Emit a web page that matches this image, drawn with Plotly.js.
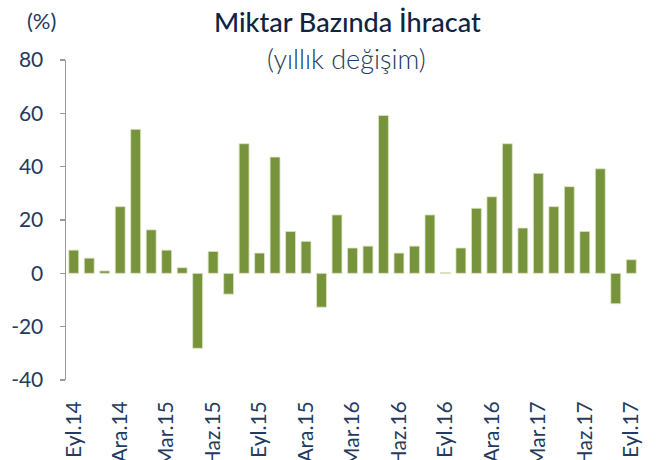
<!DOCTYPE html>
<html>
<head>
<meta charset="utf-8">
<script src="https://cdn.plot.ly/plotly-3.0.1.min.js"></script>
<style>html,body{margin:0;padding:0;background:#fff;}#chart{width:657px;height:460px;}</style>
</head>
<body>
<div id="chart"></div>
<script>
// Monthly periods, Sep 2014 .. Sep 2017
const months = ["Eyl.14","Eki.14","Kas.14","Ara.14","Oca.15","Şub.15","Mar.15","Nis.15","May.15","Haz.15","Tem.15","Ağu.15",
  "Eyl.15","Eki.15","Kas.15","Ara.15","Oca.16","Şub.16","Mar.16","Nis.16","May.16","Haz.16","Tem.16","Ağu.16",
  "Eyl.16","Eki.16","Kas.16","Ara.16","Oca.17","Şub.17","Mar.17","Nis.17","May.17","Haz.17","Tem.17","Ağu.17","Eyl.17"];
// Export volume, annual % change
const values = [8.7, 5.7, 0.9, 25, 54, 16.3, 8.7, 2.1, -28.1, 8.2, -7.8, 48.6,
  7.6, 43.6, 15.7, 12, -12.7, 21.9, 9.5, 10.2, 59.2, 7.6, 10.2, 21.9,
  0.3, 9.5, 24.4, 28.7, 48.6, 17, 37.5, 25, 32.5, 15.7, 39.2, -11.4, 5.1];
// Labelled months (every third)
const labelMonths = ["Eyl.14","Ara.14","Mar.15","Haz.15","Eyl.15","Ara.15","Mar.16","Haz.16","Eyl.16","Ara.16","Mar.17","Haz.17","Eyl.17"];
const yTicks = [-40, -20, 0, 20, 40, 60, 80];

const idx = months.map((m, i) => i);
const labelIdx = labelMonths.map(m => months.indexOf(m));
const boundaryIdx = labelIdx.filter(i => i > 0).map(i => i - 0.5);

const xr = [-0.5, months.length - 0.5];
const yr = [yTicks[0], yTicks[yTicks.length - 1]];
const zeroPos = (0 - yr[0]) / (yr[1] - yr[0]);

const textCol = '#243a5e';
const axCol = '#9a9a9a';
const fnt = "Lato, 'Open Sans', sans-serif";

const trace = {
  type: 'bar',
  x: idx,
  y: values,
  hovertext: months,
  hoverinfo: 'text+y',
  textposition: 'none',
  marker: {color: '#77933c', line: {color: '#dde6c6', width: 0.8}},
  width: 0.64
};

const layout = {
  width: 657, height: 460,
  margin: {l: 66, r: 18, t: 60, b: 80},
  paper_bgcolor: '#fff', plot_bgcolor: '#fff',
  showlegend: false,
  font: {family: fnt, color: textCol},
  xaxis: {
    range: xr, fixedrange: true,
    tickmode: 'array', tickvals: labelIdx, ticktext: labelMonths,
    tickangle: -90, ticks: '', showline: false, showgrid: false, zeroline: false,
    tickfont: {size: 21, color: textCol, family: fnt},
    ticklabelstandoff: 16,
    automargin: false
  },
  xaxis2: {
    overlaying: 'x', anchor: 'free', position: zeroPos,
    range: xr, fixedrange: true,
    tickmode: 'array', tickvals: boundaryIdx,
    ticks: 'outside', ticklen: 6, tickwidth: 1.5, tickcolor: axCol,
    showticklabels: false, showline: true, linecolor: axCol, linewidth: 1.5,
    showgrid: false, zeroline: false
  },
  yaxis: {
    range: yr, fixedrange: true,
    tickmode: 'array', tickvals: yTicks, ticktext: yTicks.map(String),
    ticks: 'outside', ticklen: 5, tickwidth: 1.5, tickcolor: axCol,
    showline: true, linecolor: axCol, linewidth: 1.5,
    showgrid: false, zeroline: false,
    tickfont: {size: 21, color: textCol, family: fnt},
    ticklabelstandoff: 12,
    automargin: false
  },
  annotations: [
    {text: 'Miktar Bazında İhracat', xref: 'paper', yref: 'paper', x: 0.492, y: 1.119,
     xanchor: 'center', yanchor: 'middle', showarrow: false,
     font: {size: 27, color: '#10233f', family: fnt, weight: 500}},
    {text: '(yıllık değişim)', xref: 'paper', yref: 'paper', x: 0.49, y: 1.006,
     xanchor: 'center', yanchor: 'middle', showarrow: false,
     font: {size: 27, color: textCol, family: fnt, weight: 300}},
    {text: '(%)', xref: 'paper', yref: 'paper', x: -0.0436, y: 1.125,
     xanchor: 'center', yanchor: 'middle', showarrow: false,
     font: {size: 22, color: textCol, family: fnt}}
  ]
};

Plotly.newPlot('chart', [trace], layout, {staticPlot: true, displayModeBar: false});
</script>
</body>
</html>
